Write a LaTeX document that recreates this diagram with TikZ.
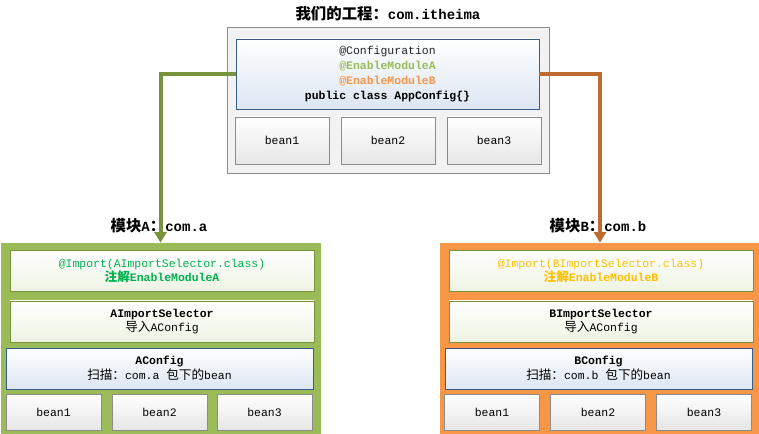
\documentclass[tikz,border=0pt]{standalone}
\usepackage{fontspec}
\setmainfont{Liberation Mono}
\newfontfamily\cjk[Scale=1.1]{Noto Sans CJK SC}
\usetikzlibrary{arrows.meta}

\definecolor{projgray}{HTML}{F2F2F2}
\definecolor{boxgray}{HTML}{8C8C8C}
\definecolor{cfgblue}{HTML}{DCE6F2}
\definecolor{cfgline}{HTML}{385D8A}
\definecolor{beanbot}{HTML}{E6E6E6}
\definecolor{modgreen}{HTML}{9BBB59}
\definecolor{modorange}{HTML}{F79646}
\definecolor{impbot}{HTML}{EEF3E2}
\definecolor{impline}{HTML}{77933C}
\definecolor{arrgreen}{HTML}{77933C}
\definecolor{arrorange}{HTML}{BF6A30}
\definecolor{txtgreen}{HTML}{00B050}
\definecolor{txtyellow}{HTML}{FFC000}
\definecolor{txtgray}{HTML}{262626}

\tikzset{
  projbox/.style={draw=boxgray, fill=projgray, minimum width=241.5pt, minimum height=109.5pt, inner sep=0pt},
  cfgbox/.style={draw=cfgline, top color=white, bottom color=cfgblue, minimum width=227.25pt, minimum height=52.5pt, align=center, inner sep=0pt},
  beanbox/.style={draw=boxgray, top color=white, bottom color=beanbot, minimum width=70.5pt, minimum height=35.25pt, inner sep=0pt},
  smallbean/.style={beanbox, minimum width=71.25pt, minimum height=27pt},
  modbox/.style={draw=none, minimum width=240pt, minimum height=144.75pt, inner sep=0pt},
  impbox/.style={draw=impline, top color=white, bottom color=impbot, minimum width=228pt, minimum height=31pt, align=center, inner sep=0pt},
  subcfg/.style={cfgbox, minimum width=230.25pt, minimum height=30.75pt},
  modlabel/.style={font=\fontsize{10.5pt}{12pt}\selectfont\bfseries},
  linkarrow/.style={line width=3pt, -{Triangle[width=9pt,length=8pt]}}
}

\begin{document}
\begin{tikzpicture}[x=0.75pt, y=-0.75pt, font=\fontsize{8.6pt}{11.2pt}\selectfont]

\useasboundingbox (0,0) rectangle (759,434);

% ---- our project ----
\node [modlabel]  (title)  at  (388, 14)  {{\cjk 我们的工程：}com.itheima};
\node [projbox]   (proj)   at  (388, 100) {};
\node [cfgbox]    (cfg)    at  (387.5, 74)
      {\textcolor{txtgray}{@Configuration}\\
       \textcolor{modgreen}{\bfseries @EnableModuleA}\\
       \textcolor{modorange}{\bfseries @EnableModuleB}\\
       \bfseries public class AppConfig\{\}};
\node [beanbox]   (pbean1) at  (282, 140.5) {bean1};
\node [beanbox]   (pbean2) at  (388, 140.5) {bean2};
\node [beanbox]   (pbean3) at  (494, 140.5) {bean3};

% ---- module A ----
\node [modlabel]  (labA)   at  (159, 226) {{\cjk 模块}A{\cjk ：}com.a};
\node [modbox, fill=modgreen]  (modA)  at  (160.5, 339.5) {};
\node [impbox]    (impA)   at  (162, 271)
      {\textcolor{txtgreen}{@Import(AImportSelector.class)}\\
       \textcolor{txtgreen}{\bfseries{\cjk 注解}EnableModuleA}};
\node [impbox]    (selA)   at  (162, 321.5)
      {\bfseries AImportSelector\\ {\cjk 导入}AConfig};
\node [subcfg]    (cfgA)   at  (159.5, 368.5)
      {\bfseries AConfig\\ {\cjk 扫描：}com.a {\cjk 包下的}bean};
\node [smallbean] (abean1) at  (53.5, 412)  {bean1};
\node [smallbean] (abean2) at  (159.5, 412) {bean2};
\node [smallbean] (abean3) at  (264.5, 412) {bean3};

% ---- module B ----
\node [modlabel]  (labB)   at  (598, 226) {{\cjk 模块}B{\cjk ：}com.b};
\node [modbox, fill=modorange] (modB)  at  (600, 339.5) {};
\node [impbox]    (impB)   at  (601, 271)
      {\textcolor{txtyellow}{@Import(BImportSelector.class)}\\
       \textcolor{txtyellow}{\bfseries{\cjk 注解}EnableModuleB}};
\node [impbox]    (selB)   at  (601, 321.5)
      {\bfseries BImportSelector\\ {\cjk 导入}AConfig};
\node [subcfg]    (cfgB)   at  (598.5, 368.5)
      {\bfseries BConfig\\ {\cjk 扫描：}com.b {\cjk 包下的}bean};
\node [smallbean] (bbean1) at  (492, 412) {bean1};
\node [smallbean] (bbean2) at  (598, 412) {bean2};
\node [smallbean] (bbean3) at  (704, 412) {bean3};

% links
\draw [linkarrow, arrgreen]   (cfg.west) -| (modA.north);
\draw [linkarrow, arrorange]  (cfg.east) -| (modB.north);

\end{tikzpicture}
\end{document}
